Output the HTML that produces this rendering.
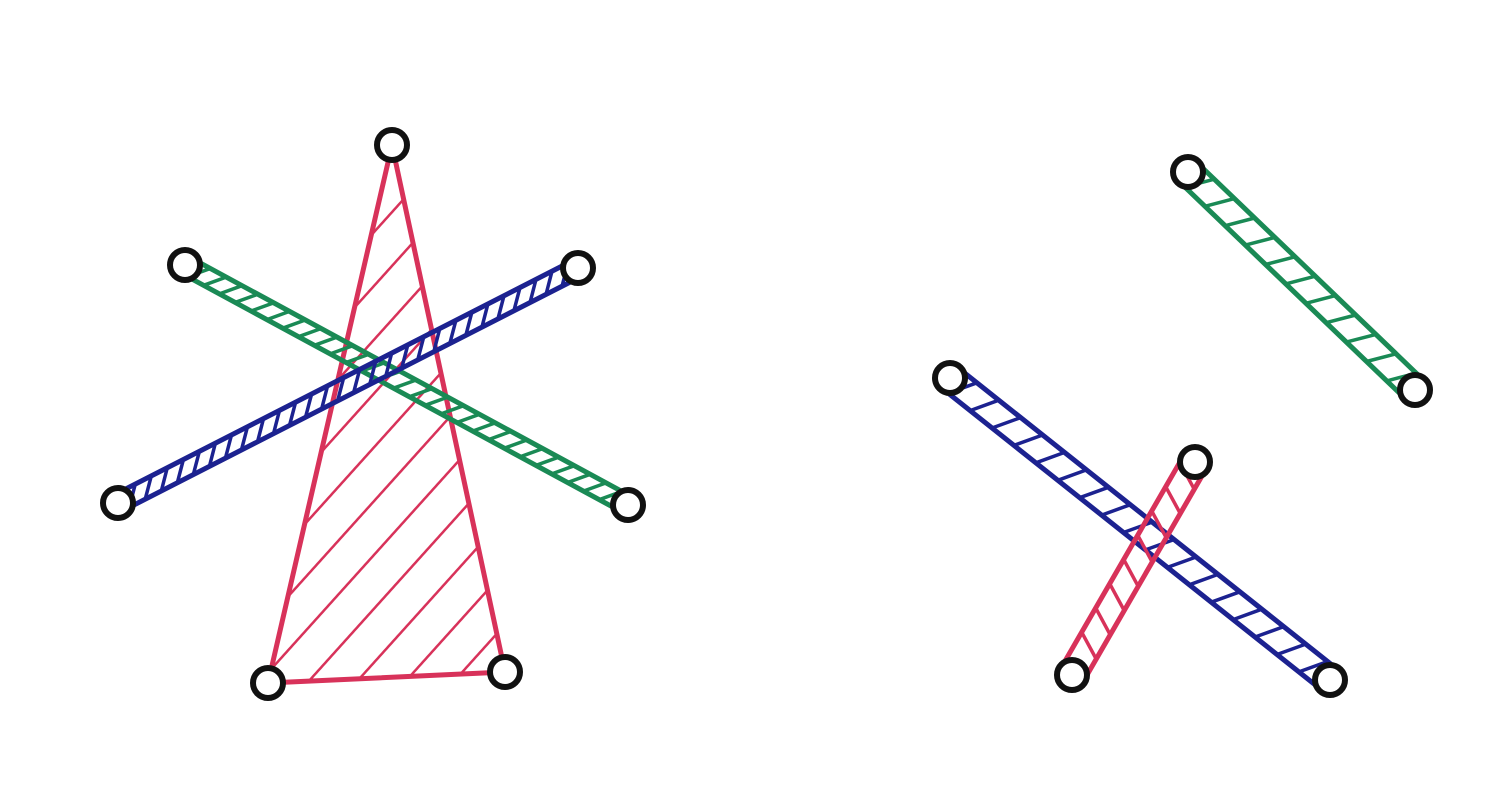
<!DOCTYPE html>
<html><head><meta charset="utf-8">
<style>html,body{margin:0;padding:0;background:#fff;}svg{display:block;}</style>
</head><body>
<svg id="s" width="1500" height="795" viewBox="0 0 1500 795">
<defs>
<pattern id="hp" patternUnits="userSpaceOnUse" width="36" height="36" patternTransform="rotate(42)">
<line x1="0" y1="0" x2="0" y2="36" stroke="#d8325a" stroke-width="5"/></pattern>
</defs>
</svg>
<script>
const triangle = [[392,145],[268,683],[505,672]];
const barStarts = [[185,265],[118,503],[1188,172],[950,378],[1195,462]];
const barEnds   = [[628,505],[578,268],[1415,390],[1330,680],[1072,675]];
const barColors = ['#1a8a55','#1c2290','#1a8a55','#1c2290','#d8325a'];
const barNames  = ['left-green-bar','left-blue-bar','right-green-bar','right-blue-bar','right-pink-bar'];
const svg = document.getElementById('s');
const NS = 'http://www.w3.org/2000/svg';
function mk(t, a){const e=document.createElementNS(NS,t);for(const k in a)e.setAttribute(k,a[k]);svg.appendChild(e);return e;}
const tri = mk('polygon',{points:triangle.map(p=>p.join(',')).join(' '),fill:'url(#hp)',stroke:'#d8325a','stroke-width':5,'stroke-linejoin':'round'});


barStarts.forEach((s,i)=>{
  const [x1,y1]=s,[x2,y2]=barEnds[i];
  const right = i>=2;
  const dx=x2-x1,dy=y2-y1,L=Math.hypot(dx,dy),ux=dx/L,uy=dy/L,w=right?13:9,nx=-uy*w,ny=ux*w;
  const step=right?28:18;
  const pts=[[x1+nx,y1+ny],[x2+nx,y2+ny],[x2-nx,y2-ny],[x1-nx,y1-ny]];
  const g=document.createElementNS(NS,'g');svg.appendChild(g);
  
  
  let d='';
  for(let t=16;t<L-8;t+=step){
    const cx=x1+ux*t,cy=y1+uy*t;
    d+=`M${(cx+nx-ux*8).toFixed(1)},${(cy+ny-uy*8).toFixed(1)}L${(cx-nx+ux*8).toFixed(1)},${(cy-ny+uy*8).toFixed(1)}`;
  }
  const h=document.createElementNS(NS,'path');
  h.setAttribute('d',d);h.setAttribute('stroke',barColors[i]);h.setAttribute('stroke-width',3.5);h.setAttribute('fill','none');
  g.appendChild(h);
  const p=document.createElementNS(NS,'polygon');
  p.setAttribute('points',pts.map(q=>q.join(',')).join(' '));
  p.setAttribute('fill','none');p.setAttribute('stroke',barColors[i]);p.setAttribute('stroke-width',5);p.setAttribute('stroke-linejoin','round');
  g.appendChild(p);
});
const joints = triangle.concat(barStarts, barEnds);
joints.forEach(p=>{
  const c=mk('circle',{cx:p[0],cy:p[1],r:15,fill:'#fff',stroke:'#111','stroke-width':6});
  
  
});
</script>
</body></html>
